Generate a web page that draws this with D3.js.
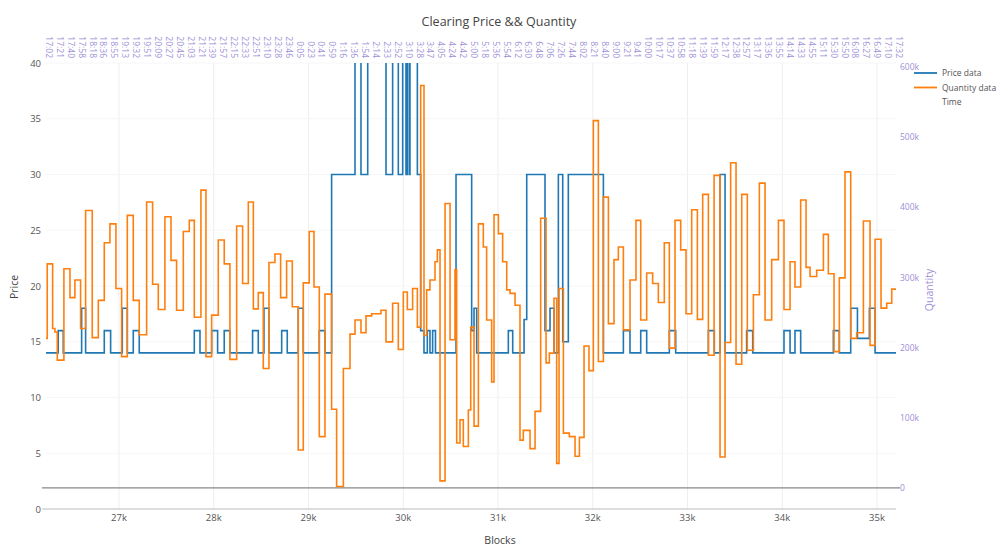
<!DOCTYPE html>
<html><head><meta charset="utf-8">
<script src="https://cdn.jsdelivr.net/npm/d3@7"></script>
<style>body{margin:0;background:#fff}svg{display:block;font-family:"Open Sans",sans-serif}</style>
</head><body><svg id="c" width="999" height="547"></svg>
<script>
// ---- data ----
const blocksPrice = [26230,26359,26412,26606,26648,26845,26912,27035,27088,27151,
 27214,27795,27855,27978,28041,28111,28171,28410,28470,28530,
 28583,28717,28776,28892,28945,29114,29174,29244,29491,29554,
 29625,29818,29888,29948,29994,30029,30043,30064,30071,30149,
 30184,30219,30254,30282,30310,30340,30557,30722,30747,30775,
 31109,31155,31275,31303,31496,31549,31591,31637,31683,31742,
 32112,32323,32393,32506,32569,32808,32875,33220,33283,33343,
 33396,33624,33688,34018,34082,34134,34194,34539,34602,34722,
 34793,34919,34979,35200];
const priceValues = [14,16,14,18,14,16,14,18,14,16,
 14,16,14,16,14,16,14,16,14,18,
 14,16,14,18,14,16,14,30,60,30,
 60,30,60,30,60,30,60,30,60,30,
 16,14,16,14,16,14,30,16,18,14,
 16,14,17,30,16,18,14,30,15,30,
 14,16,14,16,14,16,14,16,14,30,
 14,16,14,16,14,16,14,16,14,18,
 15.3,18,14,14];
const blocksQty = [26230,26243,26300,26324,26349,26419,26483,26535,26595,26648,
 26718,26782,26845,26905,26968,27028,27088,27151,27214,27292,
 27355,27415,27485,27549,27608,27679,27742,27795,27865,27918,
 27978,28048,28111,28171,28242,28305,28365,28418,28470,28523,
 28583,28646,28706,28769,28829,28892,28945,29008,29058,29114,
 29174,29244,29297,29368,29438,29491,29554,29607,29667,29765,
 29818,29888,29948,30001,30043,30099,30149,30184,30219,30247,
 30282,30335,30360,30388,30441,30494,30546,30564,30599,30634,
 30687,30712,30747,30793,30845,30880,30933,30958,31004,31049,
 31092,31127,31180,31232,31267,31338,31391,31450,31507,31542,
 31591,31619,31644,31690,31753,31813,31859,31908,31960,32006,
 32059,32112,32165,32224,32270,32323,32393,32456,32506,32569,
 32632,32692,32755,32808,32868,32928,32984,33044,33104,33160,
 33220,33280,33343,33396,33455,33512,33572,33631,33695,33758,
 33818,33888,33959,34018,34082,34134,34194,34251,34293,34363,
 34434,34486,34546,34602,34662,34722,34785,34856,34926,34979,
 35042,35102,35155,35200];
// quantity in thousands
const qtyValues = [213,319,227,222,182,312,271,296,227,395,
 214,267,349,376,284,187,388,267,218,407,
 290,254,386,324,253,365,381,243,424,187,
 246,353,319,183,373,291,407,255,278,170,
 321,333,271,323,258,54,292,365,286,73,
 276,112,2,170,219,239,221,245,248,253,
 208,263,197,279,254,284,229,573,217,282,
 296,322,339,10,405,211,311,64,97,59,
 111,229,88,376,343,239,151,389,362,322,
 282,277,260,68,82,56,109,384,178,192,
 270,35,284,78,73,45,72,202,167,523,
 180,414,234,325,343,225,296,381,239,306,
 291,264,349,199,381,339,248,396,240,418,
 189,445,44,207,463,176,418,196,275,434,
 239,325,381,254,322,286,410,314,301,310,
 361,305,194,299,450,213,221,380,203,354,
 256,263,283,283];
const timeLabels = ["17:02","17:21","17:40","17:58","18:18","18:36","18:55","19:13","19:32","19:51",
 "20:09","20:27","20:45","21:03","21:21","21:39","21:57","22:15","22:33","22:51",
 "23:10","23:28","23:46","0:05","0:23","0:41","0:59","1:16","1:36","1:54",
 "2:14","2:33","2:52","3:10","3:28","3:47","4:05","4:24","4:42","5:00",
 "5:18","5:36","5:54","6:12","6:30","6:48","7:06","7:26","7:44","8:02",
 "8:21","8:40","9:00","9:21","9:41","10:00","10:17","10:37","10:58","11:18",
 "11:39","11:59","12:17","12:38","12:57","13:17","13:36","13:55","14:14","14:33",
 "14:55","15:11","15:30","15:50","16:08","16:27","16:49","17:10","17:32"];
const xTicks = [27000,28000,29000,30000,31000,32000,33000,34000,35000];
const priceTicks = [0,5,10,15,20,25,30,35,40];
const qtyTicks = [0,100,200,300,400,500,600];
const legendItems = ["Price data","Quantity data","Time"];
const colors = {price:"#1f77b4", qty:"#ff7f0e", purple:"#9d8fd6"};

// ---- drawing ----
const svg = d3.select("#c");
const L = 46, R = 896, T = 63, B = 509;
const x = d3.scaleLinear().domain(d3.extent(blocksQty)).range([L, R]);
const y = d3.scaleLinear().domain([0, 40]).range([B, T]);
const y2 = d3.scaleLinear().domain([-30, 605]).range([B, T]);
const xt = d3.scalePoint().domain(timeLabels).range([43, 893]);

svg.append("rect").attr("width",999).attr("height",547).attr("fill","#fff");
svg.append("defs").append("clipPath").attr("id","clip")
  .append("rect").attr("x",L-2).attr("y",T).attr("width",R-L+4).attr("height",B-T);

// grid
svg.append("g").selectAll("line").data(xTicks).join("line")
  .attr("x1",d=>x(d)).attr("x2",d=>x(d)).attr("y1",T).attr("y2",B)
  .attr("stroke","#eee").attr("stroke-width",1);
svg.append("g").selectAll("line").data(priceTicks.filter(d=>d>0)).join("line")
  .attr("x1",L).attr("x2",R).attr("y1",d=>y(d)).attr("y2",d=>y(d))
  .attr("stroke","#f6f6f6").attr("stroke-width",1);
// zero lines
svg.append("line").attr("x1",L-4).attr("x2",R).attr("y1",y(0)).attr("y2",y(0)).attr("stroke","#bbb");
svg.append("line").attr("x1",L-4).attr("x2",R+4).attr("y1",y2(0)).attr("y2",y2(0)).attr("stroke","#888").attr("stroke-width",1.2);

// lines
const g = svg.append("g").attr("clip-path","url(#clip)");
const lp = d3.line().curve(d3.curveStepAfter).x(d=>x(d[0])).y(d=>y(d[1]));
const lq = d3.line().curve(d3.curveStepAfter).x(d=>x(d[0])).y(d=>y2(d[1]));
g.append("path").datum(blocksPrice.map((b,i)=>[b,priceValues[i]]))
  .attr("d",lp).attr("fill","none").attr("stroke",colors.price).attr("stroke-width",1.6);
g.append("path").datum(blocksQty.map((b,i)=>[b,qtyValues[i]]))
  .attr("d",lq).attr("fill","none").attr("stroke",colors.qty).attr("stroke-width",1.6);

// axes labels
const fs = 9.5;
svg.append("g").selectAll("text").data(priceTicks).join("text")
  .attr("x",41).attr("y",d=>y(d)+3.5).attr("text-anchor","end")
  .attr("font-size",fs).attr("fill","#555").text(d=>d);
svg.append("g").selectAll("text").data(qtyTicks).join("text")
  .attr("x",900).attr("y",d=>y2(d)+3.5).attr("text-anchor","start")
  .attr("font-size",fs-1).attr("fill",colors.purple).text(d=>d===0?"0":d+"k");
svg.append("g").selectAll("text").data(xTicks).join("text")
  .attr("x",d=>x(d)).attr("y",521).attr("text-anchor","middle")
  .attr("font-size",fs).attr("fill","#555").text(d=>(d/1000)+"k");
svg.append("g").selectAll("text").data(timeLabels).join("text")
  .attr("transform",d=>`translate(${xt(d)+3},58) rotate(90)`)
  .attr("text-anchor","end").attr("font-size",fs-1).attr("fill",colors.purple).text(d=>d);

// titles
svg.append("text").attr("x",499).attr("y",26).attr("text-anchor","middle")
  .attr("font-size",12.5).attr("fill","#444").text("Clearing Price && Quantity");
svg.append("text").attr("x",500).attr("y",544).attr("text-anchor","middle")
  .attr("font-size",10.5).attr("fill","#444").text("Blocks");
svg.append("text").attr("transform","translate(18,287) rotate(-90)").attr("text-anchor","middle")
  .attr("font-size",10.5).attr("fill","#444").text("Price");
svg.append("text").attr("transform","translate(933,290) rotate(-90)").attr("text-anchor","middle")
  .attr("font-size",10.5).attr("fill",colors.purple).text("Quantity");

// legend
const lg = svg.append("g").selectAll("g").data(legendItems).join("g")
  .attr("transform",(d,i)=>`translate(914,${73+i*14.5})`);
lg.filter((d,i)=>i<2).append("line").attr("x1",0).attr("x2",23).attr("y1",0).attr("y2",0)
  .attr("stroke",(d,i)=>i===0?colors.price:colors.qty).attr("stroke-width",1.8);
lg.append("text").attr("x",28).attr("y",3).attr("font-size",8.5).attr("fill","#555").text(d=>d);
</script></body></html>
